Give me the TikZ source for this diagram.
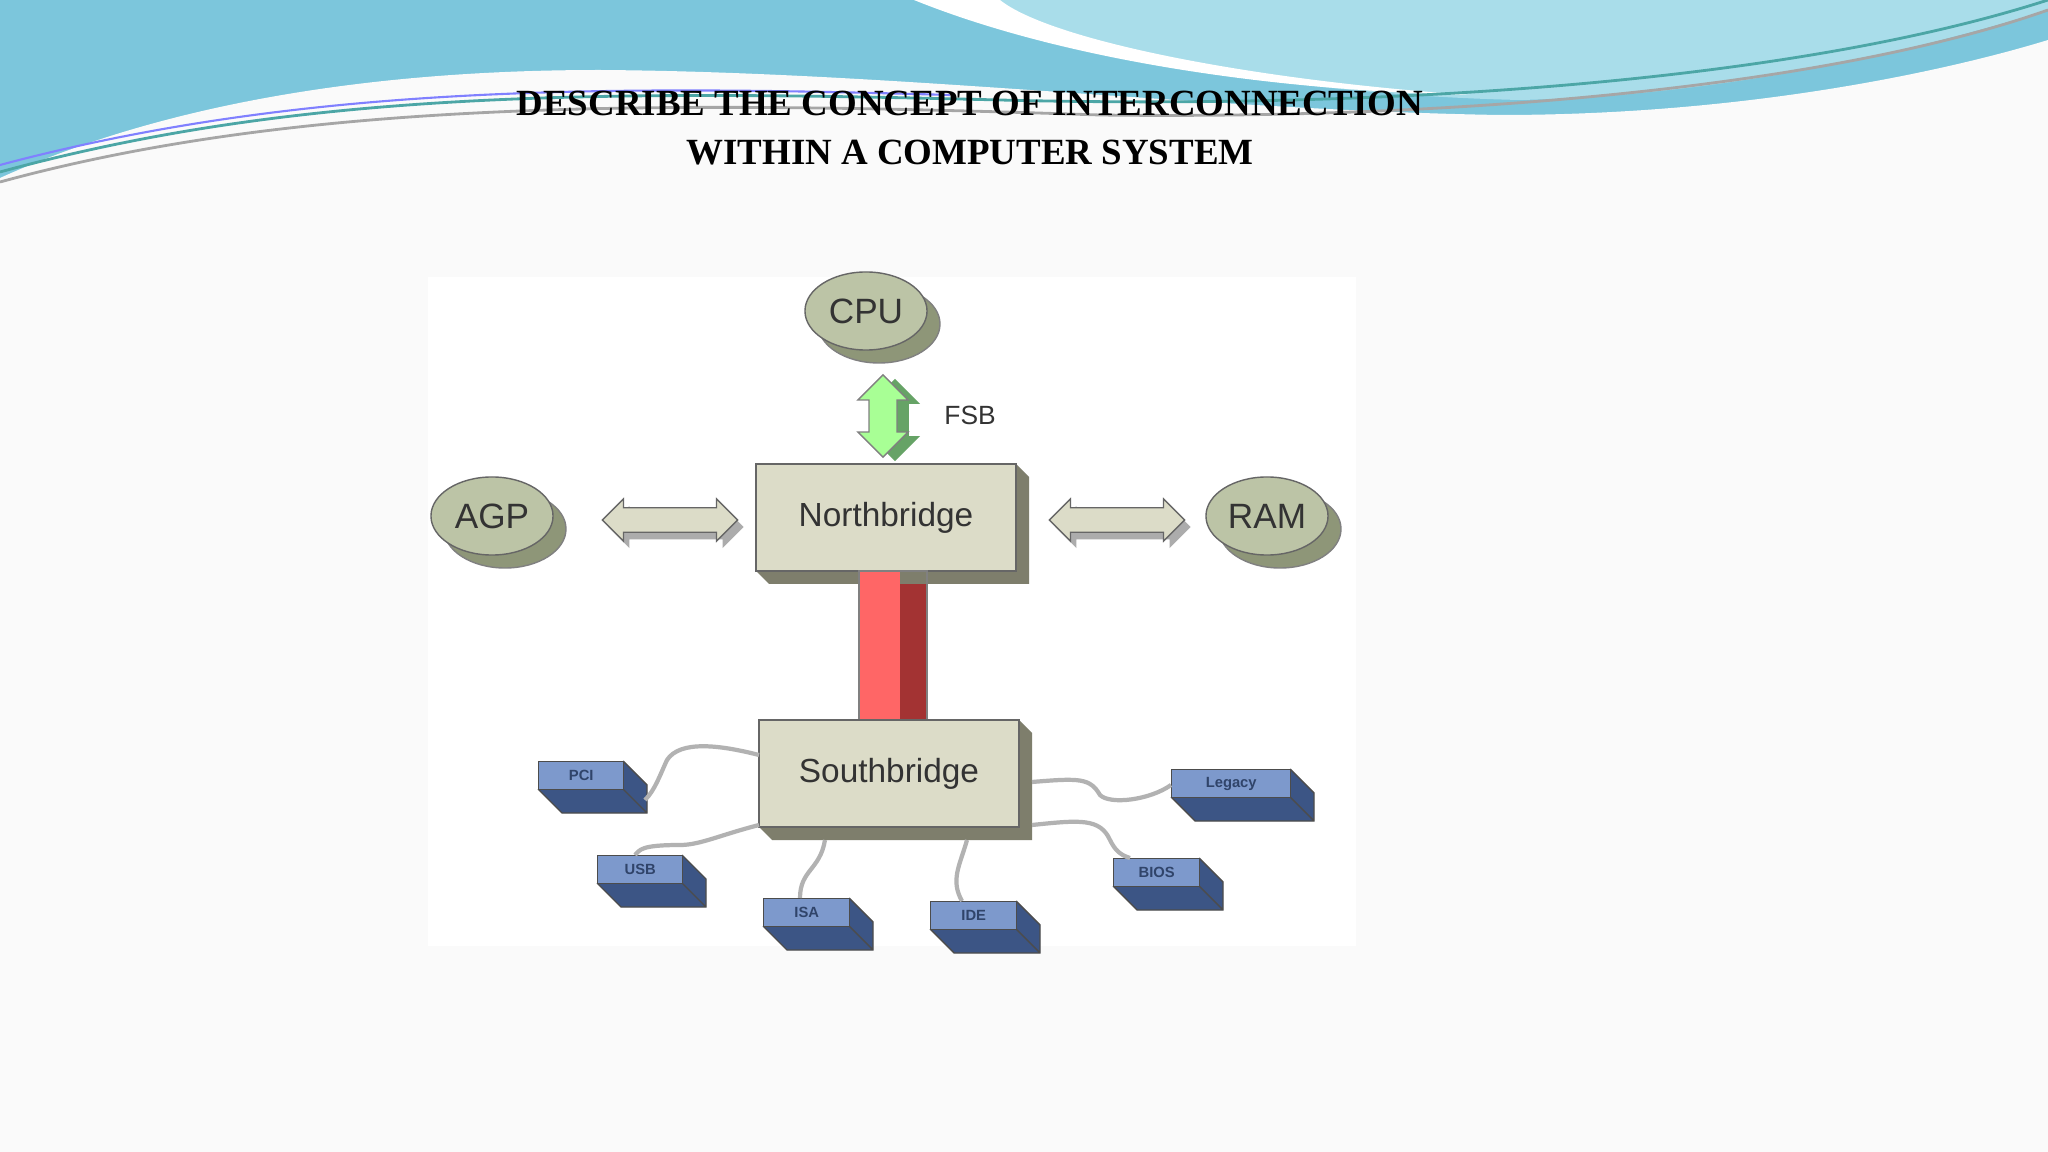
\documentclass[tikz,border=0pt]{standalone}
\usepackage{fontspec}
\setmainfont{Liberation Serif}
\setsansfont{Liberation Sans}
\usetikzlibrary{arrows.meta,shapes.arrows,shapes.geometric}
\definecolor{wave}{HTML}{7CC6DC}
\definecolor{wave2}{HTML}{A9DDEA}
\definecolor{oval}{HTML}{BCC4A6}
\definecolor{ovalsh}{HTML}{8E9678}
\definecolor{boxf}{HTML}{DCDCC8}
\definecolor{boxs}{HTML}{7E7E6C}
\definecolor{small}{HTML}{7D99CC}
\definecolor{smalls}{HTML}{3C5585}
\tikzset{
  ov/.style={ellipse, fill=oval, draw=black!60, minimum width=1.22cm, minimum height=0.78cm, inner sep=0pt, text=black!80, font=\sffamily\fontsize{10}{12}\selectfont},
  wire/.style={draw=gray!60, line width=1.2pt},
  lab/.style={text=black!80, font=\sffamily\fontsize{9.5}{12}\selectfont},
  sl/.style={font=\sffamily\bfseries\fontsize{4.2}{5}\selectfont, text=smalls!80!black},
}
\begin{document}
\begin{tikzpicture}[x=0.01cm,y=-0.01cm]
\useasboundingbox (0,0) rectangle (2048,1152);
\fill[white!96!gray] (0,0) rectangle (2048,1152);
% waves
\fill[wave] (0,0) rectangle (2048,180);
\fill[wave2] (914,0) .. controls (1100,60) and (1300,95) .. (1520,100) .. controls (1750,95) and (1950,40) .. (2048,10) -- (2048,0) -- cycle;
\fill[white!96!gray] (0,178) .. controls (150,110) and (350,70) .. (600,70) .. controls (900,72) and (1200,110) .. (1500,115) .. controls (1750,115) and (1950,70) .. (2048,40) -- (2048,180) -- (0,180) -- cycle;
\fill[white] (914,0) .. controls (1050,55) and (1250,90) .. (1470,95) .. controls (1250,80) and (1050,40) .. (1000,0) -- cycle;
\draw[teal!70, line width=0.8pt] (0,172) .. controls (300,90) and (600,90) .. (1000,100) .. controls (1400,110) and (1800,80) .. (2048,0);
\draw[gray!70, line width=0.8pt] (0,182) .. controls (300,100) and (650,100) .. (1100,115) .. controls (1500,120) and (1850,80) .. (2048,10);
\draw[blue!50, line width=0.6pt] (0,165) .. controls (300,85) and (600,85) .. (950,95);
% title
\node[font=\bfseries\fontsize{10.5}{13}\selectfont, align=center] (title) at (970,128) {DESCRIBE THE CONCEPT OF INTERCONNECTION\\[1pt]WITHIN A COMPUTER SYSTEM};
% diagram background
\fill[white] (428,277) rectangle (1356,946);
% ovals
\foreach \n/\x/\y/\t in {cpu/866/311/CPU, agp/492/516/AGP, ram/1267/516/RAM}{
  \fill[ovalsh] (\x+13,\y+13) ellipse [x radius=61, y radius=39];
  \draw[black!50] (\x+13,\y+13) ellipse [x radius=61, y radius=39];
  \node[ov] (\n) at (\x,\y) {\t};
}
% Northbridge
\fill[boxs] (756,464) -- (1016,464) -- (1029,477) -- (1029,584) -- (769,584) -- (756,571) -- cycle;
\node[draw=black!60, fill=boxf, minimum width=2.6cm, minimum height=1.07cm, inner sep=0pt, lab] (nb) at (886,517.5) {Northbridge};
% red bus
\fill[red!55!black!80] (900,584) rectangle (927,720);
\fill[red!60] (859,571) rectangle (900,720);
\draw[black!50] (859,571) rectangle (927,720);
% Southbridge
\fill[boxs] (759,720) -- (1019,720) -- (1032,733) -- (1032,840) -- (772,840) -- (759,827) -- cycle;
\node[draw=black!60, fill=boxf, minimum width=2.6cm, minimum height=1.07cm, inner sep=0pt, lab] (sb) at (889,773.5) {Southbridge};
% FSB arrow
\node[double arrow, shape border rotate=90, fill=green!40!black!60, minimum height=0.82cm, minimum width=0.5cm, double arrow head extend=0.05cm, inner sep=1.6pt] at (895,420) {};
\node[double arrow, shape border rotate=90, fill=green!35!white!90!lime, draw=black!50, minimum height=0.82cm, minimum width=0.5cm, double arrow head extend=0.05cm, inner sep=1.6pt] (fsb) at (883,416) {};
\node[font=\sffamily\fontsize{7.5}{9}\selectfont, text=black!80, anchor=west] (fsbl) at (932,415) {FSB};
% horizontal arrows
\foreach \n/\x in {la/670, ra/1117}{
  \node[double arrow, fill=gray!65, minimum height=1.35cm, minimum width=0.42cm, double arrow head extend=0.04cm, inner sep=1.4pt] at (\x+6,527) {};
  \node[double arrow, fill=boxf, draw=black!60, minimum height=1.35cm, minimum width=0.42cm, double arrow head extend=0.04cm, inner sep=1.4pt] (\n) at (\x,520) {};
}
% small boxes
\foreach \n/\x/\y/\w/\t in {pci/538/761/85/PCI, usb/597/855/85/USB, isa/763/898/86/ISA, ide/930/901/86/IDE, bios/1113/858/86/BIOS, leg/1171/769/119/Legacy}{
  \fill[smalls] (\x,\y) -- (\x+\w,\y) -- (\x+\w+24,\y+24) -- (\x+\w+24,\y+52) -- (\x+24,\y+52) -- (\x,\y+28) -- cycle;
  \draw[black!70] (\x,\y+28) -- (\x+24,\y+52) -- (\x+\w+24,\y+52) -- (\x+\w+24,\y+24) -- (\x+\w,\y) (\x+\w,\y+28) -- (\x+\w+24,\y+52);
  \node[draw=black!70, fill=small, minimum width=\w*0.01cm, minimum height=0.28cm, inner sep=0pt, sl, anchor=north west] (\n) at (\x,\y) {\t};
}
% wires
\draw[wire] (759,755) .. controls (720,745) and (680,740) .. (667,760) .. controls (660,775) and (655,790) .. (645,800);
\draw[wire] (759,825) .. controls (720,835) and (700,845) .. (680,845) .. controls (640,845) and (640,850) .. (635,855);
\draw[wire] (825,840) .. controls (820,870) and (800,870) .. (800,898);
\draw[wire] (967,840) .. controls (960,865) and (950,880) .. (962,901);
\draw[wire] (1032,825) .. controls (1080,820) and (1100,818) .. (1110,840) .. controls (1115,850) and (1120,855) .. (1130,858);
\draw[wire] (1032,782) .. controls (1080,778) and (1090,778) .. (1100,795) .. controls (1110,805) and (1150,800) .. (1171,785);
\end{tikzpicture}
\end{document}
